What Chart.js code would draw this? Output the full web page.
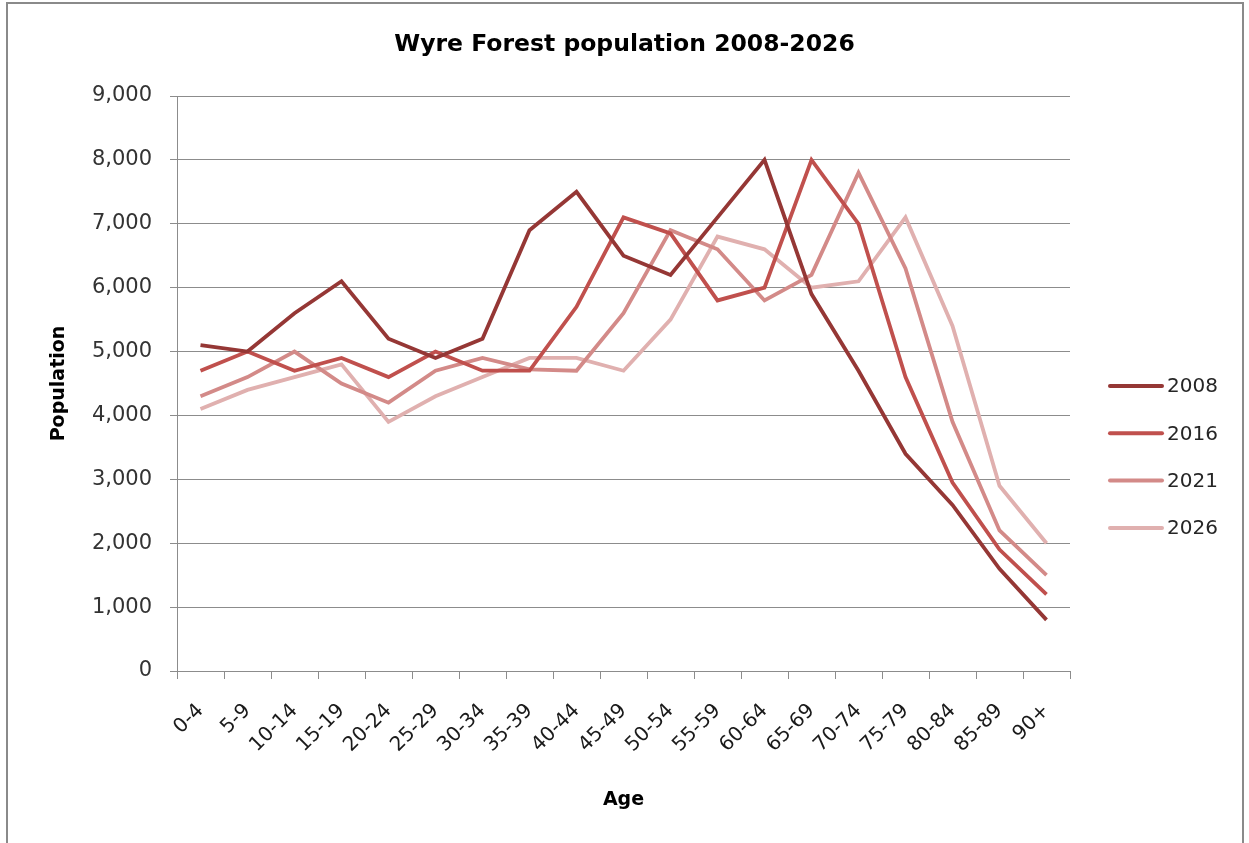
<!DOCTYPE html>
<html>
<head>
<meta charset="utf-8">
<title>Wyre Forest population 2008-2026</title>
<script src="https://cdn.jsdelivr.net/npm/chart.js@4/dist/chart.umd.min.js"></script>
<style>
  html, body { margin: 0; padding: 0; background: #fff; }
  #wrap { position: relative; width: 1249px; height: 843px; overflow: hidden; }
  #frame { position: absolute; left: 6px; top: 2px; width: 1238px; height: 900px;
           border: 2px solid #8a8a8a; box-sizing: border-box; pointer-events: none; }
  canvas { position: absolute; left: 0; top: 0; }
</style>
</head>
<body>
<div id="wrap">
  <canvas id="chart" width="1249" height="843"></canvas>
  <div id="frame"></div>
</div>
<script>
// Age bands
const ageGroups = ['0-4', '5-9', '10-14', '15-19', '20-24', '25-29', '30-34', '35-39', '40-44',
  '45-49', '50-54', '55-59', '60-64', '65-69', '70-74', '75-79', '80-84', '85-89', '90+'];

// Population by age band, one array per year
const pop2008 = [5100, 5000, 5600, 6100, 5200, 4900, 5200, 6900, 7500, 6500, 6200, 7100, 8000, 5900, 4700, 3400, 2600, 1600, 800];
const pop2016 = [4700, 5000, 4700, 4900, 4600, 5000, 4700, 4700, 5700, 7100, 6850, 5800, 6000, 8000, 7000, 4600, 2950, 1900, 1200];
const pop2021 = [4300, 4600, 5000, 4500, 4200, 4700, 4900, 4720, 4700, 5600, 6900, 6600, 5800, 6200, 7800, 6300, 3900, 2200, 1500];
const pop2026 = [4100, 4400, 4600, 4800, 3900, 4300, 4600, 4900, 4900, 4700, 5500, 6800, 6600, 6000, 6100, 7100, 5400, 2900, 2000];

const yearLabels = ['2008', '2016', '2021', '2026'];
const yTicks = [0, 1000, 2000, 3000, 4000, 5000, 6000, 7000, 8000, 9000];

const lineColors = ['#953735', '#c0504d', '#d38a88', '#e0b0af'];
const FONT = '"DejaVu Sans", Verdana, sans-serif';

function series(i, values) {
  return {
    label: yearLabels[i],
    data: values,
    borderColor: lineColors[i],
    backgroundColor: lineColors[i],
    borderWidth: 3.8,
    pointRadius: 0,
    pointHoverRadius: 0,
    tension: 0,
    fill: false
  };
}

// Legend drawn to the right of the plot, one row per dataset
const sideLegend = {
  id: 'sideLegend',
  afterDraw(chart) {
    const ctx = chart.ctx;
    const x0 = 1110, x1 = 1162, textX = 1167;
    const firstY = 386, step = 47.3;
    ctx.save();
    ctx.font = '20px ' + FONT;
    ctx.textBaseline = 'middle';
    ctx.textAlign = 'left';
    chart.data.datasets.forEach((ds, i) => {
      const y = firstY + i * step;
      ctx.strokeStyle = ds.borderColor;
      ctx.lineWidth = 4;
      ctx.lineCap = 'round';
      ctx.beginPath();
      ctx.moveTo(x0, y);
      ctx.lineTo(x1, y);
      ctx.stroke();
      ctx.fillStyle = '#262626';
      ctx.fillText(ds.label, textX, y + 1);
    });
    ctx.restore();
  }
};

new Chart(document.getElementById('chart'), {
  type: 'line',
  data: {
    labels: ageGroups,
    datasets: [series(0, pop2008), series(1, pop2016), series(2, pop2021), series(3, pop2026)]
  },
  options: {
    responsive: false,
    animation: false,
    layout: { padding: 0 },
    plugins: {
      legend: { display: false },
      tooltip: { enabled: false },
      title: {
        display: true,
        text: 'Wyre Forest population 2008-2026',
        color: '#000',
        font: { family: FONT, size: 23.5, weight: 'bold', lineHeight: 1.2 },
        padding: { top: 31, bottom: 36.8 }
      }
    },
    scales: {
      x: {
        type: 'category',
        offset: true,
        grid: {
          offset: true,
          drawOnChartArea: false,
          drawTicks: true,
          tickLength: 8,
          color: '#8c8c8c'
        },
        border: { display: true, color: '#8c8c8c', width: 1 },
        ticks: {
          minRotation: 45,
          maxRotation: 45,
          autoSkip: false,
          padding: 20,
          color: '#1a1a1a',
          font: { family: FONT, size: 20 }
        },
        title: {
          display: true,
          text: 'Age',
          color: '#000',
          font: { family: FONT, size: 19, weight: 'bold', lineHeight: 1.2 },
          padding: { top: 0, bottom: 32 }
        },
        afterFit(scale) { scale.height = 172; }
      },
      y: {
        type: 'linear',
        min: 0,
        max: 9000,
        afterBuildTicks(scale) { scale.ticks = yTicks.map(v => ({ value: v })); },
        grid: {
          color: '#8c8c8c',
          lineWidth: 1,
          drawTicks: true,
          tickLength: 7
        },
        border: { display: true, color: '#8c8c8c', width: 1 },
        ticks: {
          padding: 18,
          color: '#333',
          font: { family: FONT, size: 21 },
          callback: v => v.toLocaleString('en-GB')
        },
        title: {
          display: true,
          text: 'Population',
          color: '#000',
          font: { family: FONT, size: 19, weight: 'bold', lineHeight: 1.2 },
          padding: { top: 48, bottom: 0 }
        },
        afterFit(scale) { scale.width = 177; }
      },
      side: {
        type: 'linear',
        position: 'right',
        display: true,
        grid: { display: false, drawTicks: false },
        border: { display: false },
        ticks: { display: false },
        afterFit(scale) { scale.width = 179; }
      }
    }
  },
  plugins: [sideLegend]
});
</script>
</body>
</html>
